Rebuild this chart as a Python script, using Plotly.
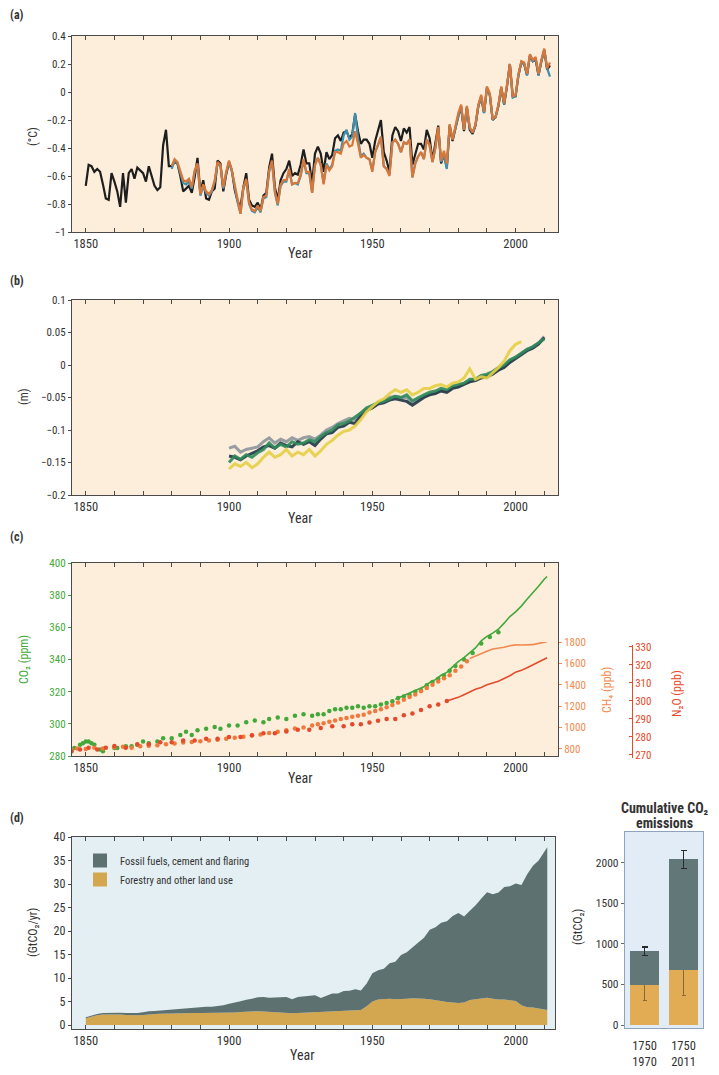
import plotly.graph_objects as go

W, H = 719, 1075
FONT = "Liberation Sans Narrow, Arial Narrow, Roboto Condensed, Roboto, sans-serif"

# ---------------- (a) temperature anomaly (deg C) ----------------
years_hadcrut = list(range(1850, 2013))
temp_hadcrut = [
    -0.67, -0.52, -0.53, -0.57, -0.55, -0.57, -0.66, -0.76, -0.77, -0.58,
    -0.64, -0.71, -0.82, -0.58, -0.79, -0.58, -0.55, -0.62, -0.54, -0.56,
    -0.58, -0.64, -0.53, -0.60, -0.67, -0.70, -0.68, -0.38, -0.27, -0.53,
    -0.53, -0.50, -0.51, -0.60, -0.71, -0.69, -0.67, -0.72, -0.61, -0.47,
    -0.72, -0.63, -0.76, -0.77, -0.71, -0.69, -0.49, -0.51, -0.71, -0.59,
    -0.50, -0.56, -0.70, -0.78, -0.82, -0.68, -0.58, -0.77, -0.81, -0.82,
    -0.79, -0.84, -0.74, -0.72, -0.54, -0.44, -0.68, -0.77, -0.63, -0.58,
    -0.55, -0.49, -0.60, -0.58, -0.59, -0.52, -0.41, -0.51, -0.51, -0.65,
    -0.44, -0.39, -0.44, -0.57, -0.43, -0.48, -0.45, -0.33, -0.31, -0.35,
    -0.29, -0.28, -0.33, -0.30, -0.16, -0.28, -0.37, -0.34, -0.34, -0.37,
    -0.47, -0.35, -0.27, -0.20, -0.43, -0.49, -0.57, -0.31, -0.25, -0.28,
    -0.35, -0.26, -0.29, -0.25, -0.52, -0.44, -0.37, -0.37, -0.41, -0.27,
    -0.33, -0.49, -0.37, -0.24, -0.51, -0.45, -0.54, -0.24, -0.35, -0.26,
    -0.17, -0.11, -0.28, -0.11, -0.27, -0.30, -0.24, -0.10, -0.04, -0.15,
    0.03, -0.02, -0.20, -0.18, -0.10, 0.03, -0.09, 0.04, 0.20, -0.03,
    -0.03, 0.12, 0.21, 0.20, 0.12, 0.26, 0.22, 0.23, 0.12, 0.22,
    0.30, 0.16, 0.19,
]
years_noaa = list(range(1880, 2013))
temp_noaa = [
    -0.53, -0.48, -0.50, -0.57, -0.63, -0.64, -0.62, -0.68, -0.56, -0.51,
    -0.73, -0.66, -0.71, -0.73, -0.70, -0.63, -0.50, -0.52, -0.68, -0.57,
    -0.49, -0.56, -0.67, -0.78, -0.87, -0.68, -0.62, -0.79, -0.84, -0.85,
    -0.81, -0.85, -0.75, -0.74, -0.56, -0.49, -0.71, -0.80, -0.66, -0.63,
    -0.63, -0.55, -0.66, -0.65, -0.65, -0.59, -0.48, -0.57, -0.57, -0.72,
    -0.52, -0.47, -0.52, -0.66, -0.52, -0.56, -0.53, -0.43, -0.43, -0.44,
    -0.37, -0.35, -0.39, -0.38, -0.28, -0.37, -0.47, -0.45, -0.47, -0.48,
    -0.57, -0.43, -0.38, -0.32, -0.53, -0.55, -0.60, -0.36, -0.34, -0.37,
    -0.43, -0.36, -0.37, -0.34, -0.61, -0.51, -0.46, -0.43, -0.48, -0.34,
    -0.38, -0.50, -0.40, -0.25, -0.49, -0.42, -0.51, -0.23, -0.34, -0.25,
    -0.15, -0.09, -0.27, -0.10, -0.25, -0.29, -0.23, -0.09, -0.02, -0.14,
    0.04, -0.01, -0.19, -0.18, -0.09, 0.04, -0.08, 0.05, 0.20, -0.03,
    -0.02, 0.13, 0.22, 0.21, 0.13, 0.27, 0.23, 0.25, 0.13, 0.23,
    0.31, 0.17, 0.21,
]
years_giss = list(range(1880, 2013))
temp_giss = [
    -0.55, -0.49, -0.51, -0.59, -0.65, -0.66, -0.64, -0.69, -0.57, -0.52,
    -0.74, -0.67, -0.72, -0.74, -0.71, -0.64, -0.51, -0.53, -0.69, -0.58,
    -0.50, -0.57, -0.68, -0.79, -0.87, -0.69, -0.63, -0.80, -0.85, -0.86,
    -0.82, -0.86, -0.76, -0.75, -0.57, -0.50, -0.72, -0.81, -0.67, -0.64,
    -0.64, -0.56, -0.66, -0.65, -0.66, -0.60, -0.49, -0.58, -0.58, -0.72,
    -0.52, -0.47, -0.52, -0.65, -0.51, -0.55, -0.52, -0.42, -0.41, -0.42,
    -0.31, -0.27, -0.34, -0.32, -0.15, -0.33, -0.46, -0.44, -0.47, -0.48,
    -0.56, -0.43, -0.38, -0.32, -0.53, -0.55, -0.59, -0.36, -0.34, -0.37,
    -0.43, -0.36, -0.37, -0.34, -0.61, -0.51, -0.46, -0.43, -0.48, -0.34,
    -0.38, -0.50, -0.40, -0.26, -0.50, -0.45, -0.55, -0.24, -0.34, -0.26,
    -0.16, -0.10, -0.27, -0.11, -0.26, -0.29, -0.24, -0.10, -0.03, -0.15,
    0.03, -0.02, -0.20, -0.18, -0.10, 0.03, -0.09, 0.04, 0.19, -0.04,
    -0.03, 0.12, 0.21, 0.20, 0.12, 0.26, 0.22, 0.24, 0.12, 0.22,
    0.30, 0.17, 0.11,
]

# ---------------- (b) sea level change (m) ----------------
sl_years = list(range(1900, 2011, 2))
sl_gray = [
    -0.128, -0.125, -0.134, -0.130, -0.128, -0.126, -0.118, -0.112, -0.120, -0.114,
    -0.118, -0.112, -0.116, -0.112, -0.110, -0.114, -0.108, -0.100, -0.096, -0.090,
    -0.086, -0.082, -0.084, -0.074, -0.066, -0.064, -0.058, -0.055, -0.050, -0.048,
    -0.050, -0.050, -0.058, -0.052, -0.048, -0.044, -0.042, -0.038, -0.040, -0.034,
    -0.032, -0.028, -0.024, -0.022, -0.018, -0.016, -0.012, -0.006, -0.002, 0.006,
    0.012, 0.018, 0.024, 0.028, 0.034, 0.044,
]
sl_navy = [
    -0.140, -0.142, -0.146, -0.140, -0.136, -0.132, -0.126, -0.124, -0.128, -0.120,
    -0.124, -0.126, -0.118, -0.122, -0.118, -0.124, -0.114, -0.106, -0.104, -0.096,
    -0.094, -0.088, -0.090, -0.078, -0.070, -0.066, -0.060, -0.058, -0.054, -0.052,
    -0.054, -0.056, -0.062, -0.056, -0.050, -0.046, -0.044, -0.040, -0.042, -0.036,
    -0.034, -0.030, -0.026, -0.024, -0.020, -0.018, -0.014, -0.008, -0.004, 0.004,
    0.010, 0.016, 0.022, 0.026, 0.032, 0.042,
]
sl_green = [
    -0.150, -0.140, -0.145, -0.138, -0.142, -0.135, -0.130, -0.120, -0.128, -0.122,
    -0.126, -0.118, -0.122, -0.120, -0.115, -0.118, -0.110, -0.104, -0.100, -0.092,
    -0.090, -0.086, -0.080, -0.074, -0.066, -0.062, -0.058, -0.056, -0.052, -0.048,
    -0.050, -0.046, -0.055, -0.050, -0.046, -0.042, -0.040, -0.036, -0.038, -0.032,
    -0.030, -0.028, -0.022, -0.022, -0.016, -0.014, -0.010, -0.004, 0.000, 0.008,
    0.012, 0.018, 0.024, 0.028, 0.034, 0.040,
]
sl_yellow_years = list(range(1900, 2003, 2))
sl_yellow = [
    -0.160, -0.152, -0.156, -0.150, -0.158, -0.152, -0.142, -0.134, -0.142, -0.138,
    -0.130, -0.140, -0.134, -0.138, -0.130, -0.140, -0.132, -0.122, -0.116, -0.108,
    -0.102, -0.100, -0.094, -0.084, -0.072, -0.064, -0.056, -0.052, -0.044, -0.038,
    -0.042, -0.038, -0.046, -0.042, -0.036, -0.036, -0.032, -0.030, -0.034, -0.028,
    -0.026, -0.020, -0.006, -0.022, -0.018, -0.020, -0.012, -0.004, 0.006, 0.022,
    0.032, 0.036,
]

# ---------------- (c) greenhouse gas concentrations ----------------
co2_ice_years = [
    1845, 1846, 1848, 1849, 1850, 1851, 1852, 1853, 1855, 1856,
    1860, 1861, 1864, 1866, 1868, 1870, 1872, 1875, 1877, 1880,
    1883, 1885, 1887, 1889, 1892, 1895, 1897, 1900, 1903, 1906,
    1909, 1912, 1914, 1917, 1920, 1923, 1926, 1929, 1931, 1933,
    1935, 1937, 1939, 1941, 1943, 1945, 1947, 1949, 1951, 1953,
    1955, 1957, 1959, 1961, 1963, 1965, 1967, 1969, 1971, 1973,
    1975, 1977, 1979, 1982, 1985, 1988, 1991, 1994,
]
co2_ice = [
    283, 285, 287, 288, 289, 289, 288, 287, 284, 283,
    285, 285, 286, 286, 287, 289, 288, 289, 291, 291,
    293, 295, 293, 296, 297, 298, 297, 299, 299, 301,
    302, 301, 303, 304, 303, 305, 306, 305, 306, 306,
    308, 309, 309, 310, 310, 311, 310, 311, 311, 312,
    313, 314, 316, 317, 318, 320, 321, 324, 326, 328,
    330, 333, 336, 340, 344, 350, 354, 357,
]
co2_obs_years = [1958, 1960, 1962, 1964, 1966, 1968, 1970, 1972, 1974, 1976,
                 1978, 1980, 1982, 1984, 1986, 1988, 1990, 1992, 1994, 1996,
                 1998, 2000, 2002, 2004, 2006, 2008, 2010, 2011]
co2_obs = [315.3, 316.9, 318.4, 319.6, 321.4, 323.0, 325.7, 327.5, 330.2, 332.0,
           335.4, 338.7, 341.1, 344.4, 347.2, 351.6, 354.4, 356.4, 358.8, 362.6,
           366.7, 369.6, 373.2, 377.5, 381.9, 385.6, 389.9, 391.6]

ch4_ice_years = [
    1845, 1847, 1850, 1853, 1856, 1860, 1863, 1866, 1869, 1872,
    1875, 1878, 1881, 1884, 1887, 1890, 1893, 1896, 1899, 1902,
    1905, 1908, 1911, 1914, 1917, 1920, 1923, 1926, 1929, 1931,
    1933, 1935, 1937, 1939, 1941, 1943, 1945, 1947, 1949, 1951,
    1953, 1955, 1957, 1959, 1961, 1963, 1965, 1967, 1969, 1971,
    1973, 1975, 1977, 1979, 1981, 1983,
]
ch4_ice = [
    795, 805, 800, 810, 805, 815, 820, 812, 825, 830,
    835, 845, 850, 860, 865, 872, 880, 885, 895, 905,
    915, 925, 935, 950, 960, 975, 990, 1000, 1020, 1030,
    1040, 1055, 1065, 1080, 1090, 1100, 1110, 1120, 1140, 1155,
    1170, 1190, 1210, 1235, 1260, 1285, 1310, 1340, 1370, 1400,
    1430, 1460, 1490, 1530, 1570, 1620,
]
ch4_obs_years = [1984, 1986, 1988, 1990, 1992, 1994, 1996, 1998, 2000, 2002,
                 2004, 2006, 2008, 2010, 2011]
ch4_obs = [1645, 1670, 1693, 1714, 1735, 1742, 1751, 1765, 1773, 1772,
           1774, 1775, 1787, 1799, 1803]

n2o_ice_years = [
    1845, 1848, 1851, 1854, 1857, 1860, 1864, 1868, 1872, 1876,
    1880, 1884, 1888, 1892, 1896, 1900, 1904, 1908, 1912, 1916,
    1920, 1924, 1928, 1932, 1936, 1940, 1943, 1946, 1949, 1952,
    1955, 1958, 1961, 1964, 1967, 1970, 1973, 1976,
]
n2o_ice = [
    272, 273, 274, 273, 274, 275, 274, 276, 276, 277,
    277, 278, 278, 279, 279, 280, 280, 281, 282, 282,
    283, 284, 284, 285, 286, 286, 287, 287, 288, 289,
    290, 290, 292, 293, 295, 297, 298, 300,
]
n2o_obs_years = [1976, 1978, 1980, 1982, 1984, 1986, 1988, 1990, 1992, 1994, 1996,
                 1998, 2000, 2002, 2004, 2006, 2008, 2010, 2011]
n2o_obs = [300.0, 300.8, 302.0, 303.5, 305.0, 306.5, 307.5, 309.0, 310.0, 311.0, 312.5,
           314.0, 316.0, 317.0, 318.5, 320.0, 321.5, 323.0, 324.0]

# ---------------- (d) annual anthropogenic CO2 emissions (GtCO2/yr) ----------------
em_years = list(range(1850, 2011, 2)) + [2011]
em_fossil = [
    0.20, 0.22, 0.26, 0.29, 0.30, 0.33, 0.35, 0.41, 0.44, 0.48,
    0.54, 0.63, 0.62, 0.67, 0.70, 0.86, 0.94, 0.95, 0.99, 1.15,
    1.30, 1.33, 1.36, 1.50, 1.70, 1.96, 2.06, 2.30, 2.54, 2.61,
    2.95, 3.10, 3.03, 3.25, 3.30, 3.39, 2.96, 3.40, 3.45, 3.60,
    3.59, 2.99, 3.37, 3.84, 3.79, 4.34, 4.35, 4.59, 4.14, 4.84,
    5.99, 6.25, 6.45, 7.52, 7.94, 9.40, 9.87, 10.90, 11.85, 12.95,
    14.74, 15.50, 16.75, 17.15, 18.40, 19.14, 18.30, 19.03, 19.99, 21.30,
    22.42, 22.20, 22.80, 23.95, 24.30, 25.00, 25.60, 28.30, 30.20, 31.50,
    33.50, 34.60,
]
em_land = [
    1.45, 1.80, 2.10, 2.25, 2.30, 2.30, 2.25, 2.15, 2.05, 2.05,
    2.15, 2.30, 2.35, 2.40, 2.45, 2.45, 2.50, 2.50, 2.55, 2.55,
    2.55, 2.55, 2.50, 2.50, 2.50, 2.55, 2.65, 2.75, 2.85, 2.95,
    2.95, 2.85, 2.75, 2.65, 2.60, 2.55, 2.50, 2.55, 2.60, 2.70,
    2.75, 2.75, 2.80, 2.85, 2.90, 2.90, 2.95, 3.00, 3.20, 4.00,
    5.00, 5.40, 5.50, 5.60, 5.50, 5.50, 5.60, 5.70, 5.70, 5.60,
    5.50, 5.30, 5.00, 4.90, 4.80, 4.70, 4.80, 5.30, 5.50, 5.60,
    5.80, 5.60, 5.40, 5.40, 5.20, 5.10, 4.20, 3.80, 3.70, 3.50,
    3.30, 3.20,
]

# ---------------- cumulative CO2 emissions (GtCO2) ----------------
cum_periods = ["1750<br>1970", "1750<br>2011"]
cum_land = [490, 680]
cum_fossil = [420, 1360]
cum_total_err = [50, 110]
cum_land_err = [185, 320]

# ---------------- colours ----------------
PEACH = "#FDEEDB"
BLUEBG = "#E3EFF2"
FRAME = "#4A4A4A"
C_BLACK, C_ORANGE, C_BLUE = "#1E1E1E", "#D9773A", "#3E90AE"
C_SL_GRAY, C_SL_NAVY, C_SL_GREEN, C_SL_YEL = "#8D959B", "#1F3547", "#2F8A5B", "#E6CF45"
C_CO2, C_CH4, C_N2O = "#43A83A", "#F28A50", "#E44A2C"
C_FOSSIL, C_LAND = "#5E7171", "#D3A650"
C_FOSSIL_B, C_LAND_B = "#627777", "#E2AC55"


def fx(px):
    return px / W


def fy(py):
    return 1 - py / H


fig = go.Figure()

# (a)
fig.add_trace(go.Scatter(x=years_hadcrut, y=temp_hadcrut, mode="lines", line=dict(color=C_BLACK, width=2.2),
                         xaxis="x", yaxis="y", showlegend=False, name="HadCRUT4"))
fig.add_trace(go.Scatter(x=years_giss, y=temp_giss, mode="lines", line=dict(color=C_BLUE, width=2.2),
                         xaxis="x", yaxis="y", showlegend=False, name="GISS"))
fig.add_trace(go.Scatter(x=years_noaa, y=temp_noaa, mode="lines", line=dict(color=C_ORANGE, width=2.2),
                         xaxis="x", yaxis="y", showlegend=False, name="NOAA"))

# (b)
for yv, col, xs in [(sl_gray, C_SL_GRAY, sl_years), (sl_navy, C_SL_NAVY, sl_years),
                    (sl_green, C_SL_GREEN, sl_years), (sl_yellow, C_SL_YEL, sl_yellow_years)]:
    fig.add_trace(go.Scatter(x=xs, y=yv, mode="lines", line=dict(color=col, width=3),
                             opacity=0.9, xaxis="x2", yaxis="y2", showlegend=False))

# (c)
fig.add_trace(go.Scatter(x=co2_ice_years, y=co2_ice, mode="markers",
                         marker=dict(color=C_CO2, size=4.5), xaxis="x3", yaxis="y3", showlegend=False, name="CO2"))
fig.add_trace(go.Scatter(x=co2_obs_years, y=co2_obs, mode="lines", line=dict(color=C_CO2, width=1.6),
                         xaxis="x3", yaxis="y3", showlegend=False, name="CO2 obs"))
fig.add_trace(go.Scatter(x=ch4_ice_years, y=ch4_ice, mode="markers",
                         marker=dict(color="#F07A3C", size=4.5), xaxis="x3", yaxis="y4", showlegend=False, name="CH4"))
fig.add_trace(go.Scatter(x=ch4_obs_years, y=ch4_obs, mode="lines", line=dict(color=C_CH4, width=1.6),
                         xaxis="x3", yaxis="y4", showlegend=False, name="CH4 obs"))
fig.add_trace(go.Scatter(x=n2o_ice_years, y=n2o_ice, mode="markers",
                         marker=dict(color=C_N2O, size=4.5), xaxis="x3", yaxis="y5", showlegend=False, name="N2O"))
fig.add_trace(go.Scatter(x=n2o_obs_years, y=n2o_obs, mode="lines", line=dict(color=C_N2O, width=1.6),
                         xaxis="x3", yaxis="y5", showlegend=False, name="N2O obs"))

# (d)
fig.add_trace(go.Scatter(x=em_years, y=em_land, mode="lines", stackgroup="em", line=dict(width=0, color=C_LAND),
                         fillcolor=C_LAND, xaxis="x4", yaxis="y6", showlegend=False))
fig.add_trace(go.Scatter(x=em_years, y=em_fossil, mode="lines", stackgroup="em", line=dict(width=0, color=C_FOSSIL),
                         fillcolor=C_FOSSIL, xaxis="x4", yaxis="y6", showlegend=False))
fig.add_trace(go.Scatter(x=[None], y=[None], mode="markers", name="Fossil fuels, cement and flaring",
                         marker=dict(symbol="square", size=14, color=C_FOSSIL), xaxis="x4", yaxis="y6"))
fig.add_trace(go.Scatter(x=[None], y=[None], mode="markers", name="Forestry and other land use",
                         marker=dict(symbol="square", size=14, color=C_LAND), xaxis="x4", yaxis="y6"))

# cumulative bars
fig.add_trace(go.Bar(x=cum_periods, y=cum_land, marker=dict(color=C_LAND_B, line=dict(width=0)),
                     error_y=dict(type="data", array=cum_land_err, color="#8A6A3A", thickness=1, width=2),
                     xaxis="x5", yaxis="y7", showlegend=False))
fig.add_trace(go.Bar(x=cum_periods, y=cum_fossil, marker=dict(color=C_FOSSIL_B, line=dict(width=0)),
                     error_y=dict(type="data", array=cum_total_err, color="#2A2A2A", thickness=1.2, width=3),
                     xaxis="x5", yaxis="y7", showlegend=False))

# ---------------- axes ----------------
XR = [1845.2, 2014.8]
xa = dict(tick0=1850, dtick=50, ticks="inside", ticklen=4, tickcolor=FRAME, showline=True,
          minor=dict(tick0=1850, dtick=10, ticks="inside", ticklen=4, tickcolor=FRAME, showgrid=False),
          linecolor=FRAME, linewidth=1.3, mirror="ticks", showgrid=False, zeroline=False,
          tickfont=dict(size=12.5, color="#333", family=FONT))
ya = dict(ticks="outside", ticklen=3, tickcolor=FRAME, showline=True, linecolor=FRAME, linewidth=1.3,
          mirror=True, showgrid=False, zeroline=False, tickfont=dict(size=11, color="#333", family=FONT))

A = (fx(72), fx(558))
fig.update_layout(
    xaxis=dict(xa, domain=A, range=XR, anchor="y"),
    yaxis=dict(ya, domain=[fy(232), fy(36)], range=[-1, 0.4], dtick=0.2, anchor="x"),
    xaxis2=dict(xa, domain=A, range=XR, anchor="y2"),
    yaxis2=dict(ya, domain=[fy(495), fy(300)], range=[-0.2, 0.1], dtick=0.05, anchor="x2"),
    xaxis3=dict(xa, domain=A, range=XR, anchor="y3"),
    yaxis3=dict(ya, domain=[fy(756), fy(563)], range=[280, 400], dtick=20, anchor="x3",
                tickfont=dict(size=11, color=C_CO2, family=FONT), tickcolor=C_CO2),
    yaxis4=dict(domain=[fy(756), fy(642)], range=[734, 1800], tickvals=[800, 1000, 1200, 1400, 1600, 1800],
                anchor="x3", side="right", ticks="outside", ticklen=3, tickcolor=C_CH4, showline=False,
                showgrid=False, zeroline=False, tickfont=dict(size=11, color=C_CH4, family=FONT)),
    yaxis5=dict(domain=[fy(758), fy(645)], range=[268.3, 331.1], tickvals=[270, 280, 290, 300, 310, 320, 330],
                anchor="free", position=fx(632), side="right", ticks="inside", ticklen=3, tickcolor=C_N2O,
                showline=True, linecolor=C_N2O, linewidth=1, showgrid=False, zeroline=False,
                tickfont=dict(size=11, color=C_N2O, family=FONT)),
    xaxis4=dict(xa, domain=(fx(72), fx(555)), range=[1845.2, 2013.7], anchor="y6"),
    yaxis6=dict(ya, domain=[fy(1029), fy(837)], range=[-0.85, 40], dtick=5, anchor="x4",
                tickfont=dict(size=12, color="#333", family=FONT)),
    xaxis5=dict(domain=[fx(625), fx(703)], type="category", range=[-0.5, 1.5], anchor="y7", showline=True,
                linecolor="#8FA3BD", linewidth=1.3, mirror=True, ticks="", showgrid=False,
                ticklabelstandoff=6, tickfont=dict(size=12.5, color="#333", family=FONT)),
    yaxis7=dict(domain=[fy(1028), fy(832)], range=[-37, 2377], tickvals=[0, 500, 1000, 1500, 2000], anchor="x5",
                ticks="outside", ticklen=3, tickcolor="#666", showline=True, linecolor="#8FA3BD", linewidth=1.3,
                mirror=True, showgrid=False, zeroline=False, tickfont=dict(size=11.5, color="#333", family=FONT)),
    barmode="stack", bargap=0.28,
)

# backgrounds
shapes = []
for xr, yr, col in [("x", "y", PEACH), ("x2", "y2", PEACH), ("x3", "y3", PEACH),
                    ("x4", "y6", BLUEBG), ("x5", "y7", "#E2ECF6")]:
    shapes.append(dict(type="rect", xref=xr + " domain", yref=yr + " domain", x0=0, x1=1, y0=0, y1=1,
                       fillcolor=col, line=dict(width=0), layer="below"))

ann = []


def text(px, py, s, size=12, color="#333", angle=0, xanchor="center", bold=False):
    ann.append(dict(x=fx(px), y=fy(py), xref="paper", yref="paper", text=("<b>%s</b>" % s) if bold else s,
                    showarrow=False, textangle=angle, xanchor=xanchor, yanchor="middle",
                    font=dict(size=size, color=color, family=FONT)))


for lab, py in [("(a)", 15), ("(b)", 281), ("(c)", 537), ("(d)", 818)]:
    text(8, py, lab, size=12, xanchor="left", bold=True)
for py in [253, 518, 778]:
    text(300, py, "Year", size=14)
text(302, 1055, "Year", size=14)
text(33, 137, "(°C)", size=12, angle=-90)
text(24, 397, "(m)", size=12, angle=-90)
text(24, 660, "CO₂ (ppm)", size=12, angle=-90, color=C_CO2)
text(607, 690, "CH₄ (ppb)", size=12, angle=-90, color=C_CH4)
text(677, 694, "N₂O (ppb)", size=12, angle=-90, color=C_N2O)
text(33, 933, "(GtCO₂/yr)", size=12, angle=-90)
text(578, 927, "(GtCO₂)", size=12, angle=-90)
text(665, 808, "Cumulative CO₂", size=14, bold=True)
text(664, 823, "emissions", size=14, bold=True)

fig.update_layout(
    width=W, height=H, margin=dict(l=0, r=0, t=0, b=0),
    paper_bgcolor="white", plot_bgcolor="rgba(0,0,0,0)", template="none",
    shapes=shapes, annotations=ann,
    showlegend=True,
    legend=dict(x=fx(80), y=fy(846), xanchor="left", yanchor="top", bgcolor="rgba(0,0,0,0)",
                traceorder="normal", font=dict(size=10.5, color="#333", family=FONT),
                itemwidth=30, tracegroupgap=0),
    font=dict(family=FONT),
)

fig.write_html("out.html")
